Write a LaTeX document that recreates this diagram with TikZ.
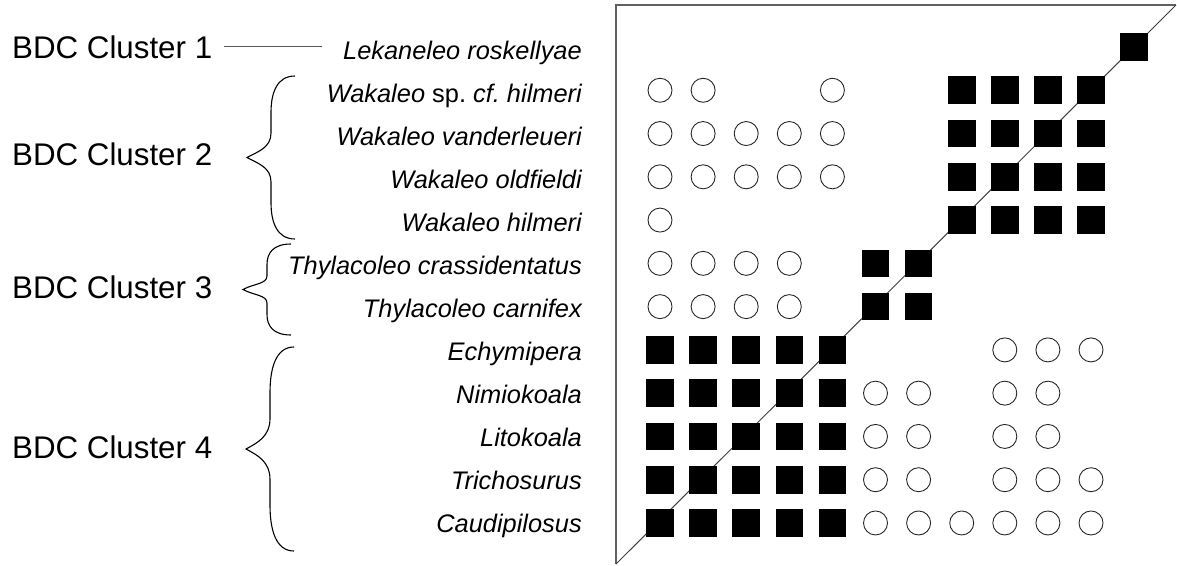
\documentclass[tikz,border=0pt]{standalone}
\usepackage{fontspec}
\setmainfont{Liberation Sans}

\begin{document}
\begin{tikzpicture}[x=1pt, y=-1pt,
  cluster/.style={anchor=base west, inner sep=0pt, font=\fontsize{31.3}{36}\selectfont},
  species/.style={anchor=base east, inner sep=0pt, font=\fontsize{25.4}{30}\selectfont\itshape},
  sqcell/.style={fill=black, minimum size=27.6pt, inner sep=0pt},
  circcell/.style={circle, draw=black!85, line width=0.9pt, minimum size=24pt, inner sep=0pt},
  frame/.style={draw=black!62, line width=1.8pt},
  diag/.style={draw=black!75, line width=1pt},
  brace/.style={draw=black, line width=1.1pt},
  link/.style={draw=black!65, line width=1.3pt}
]
\useasboundingbox (0,0) rectangle (1177,565);

%% --- Cluster labels (left) ---
\node[cluster] (cl1) at (12,58)  {BDC Cluster 1};
\node[cluster] (cl2) at (12,165) {BDC Cluster 2};
\node[cluster] (cl3) at (12,298) {BDC Cluster 3};
\node[cluster] (cl4) at (12,458) {BDC Cluster 4};

%% --- Taxon labels ---
\foreach \r/\name in {1/Lekaneleo roskellyae, 2/Wakaleo \textup{sp.}\ cf.\ hilmeri,
    3/Wakaleo vanderleueri, 4/Wakaleo oldfieldi, 5/Wakaleo hilmeri,
    6/Thylacoleo crassidentatus, 7/Thylacoleo carnifex, 8/Echymipera,
    9/Nimiokoala, 10/Litokoala, 11/Trichosurus, 12/Caudipilosus}
  \node[species] (sp\r) at (582, {59+43*(\r-1)}) {\name};

%% --- Cluster 1 link and braces for clusters 2-4 ---
\draw[link, shorten <=12pt, shorten >=21pt] (cl1.east) -- (cl1.east -| sp1.west);
\foreach \xe/\yt/\yb in {295/76/239, 291/244/335, 294/347/551} {
  \pgfmathsetmacro\bym{(\yt+\yb)/2}
  \pgfmathsetmacro\bcurl{0.45*(\yb-\yt)/2}
  \pgfmathsetmacro\btip{0.3*(\yb-\yt)/2}
  \pgfmathsetmacro\bxs{\xe-24}
  \pgfmathsetmacro\bxt{\xe-48}
  \draw[brace] (\xe,\yt) .. controls ({\bxs+6},\yt) and (\bxs,{\yt+0.45*\bcurl}) .. (\bxs,{\yt+\bcurl})
    -- (\bxs,{\bym-\btip}) .. controls (\bxs,{\bym-0.4*\btip}) and ({\bxt+11},{\bym-6}) .. (\bxt,\bym)
    .. controls ({\bxt+11},{\bym+6}) and (\bxs,{\bym+0.4*\btip}) .. (\bxs,{\bym+\btip})
    -- (\bxs,{\yb-\bcurl}) .. controls (\bxs,{\yb-0.45*\bcurl}) and ({\bxs+6},\yb) .. (\xe,\yb);
}

%% --- Matrix frame ---
\draw[frame] (616,564) -- (616,5) -- (1176,5);
\draw[diag] (616,564) -- (1176,5);

%% --- Filled cells ---
\foreach \r/\cols in {1/{12}, 2/{8,...,11}, 3/{8,...,11}, 4/{8,...,11}, 5/{8,...,11},
    6/{6,7}, 7/{6,7}, 8/{1,...,5}, 9/{1,...,5}, 10/{1,...,5}, 11/{1,...,5}, 12/{1,...,5}}
  \foreach \c in \cols
    \node[sqcell] (sq-\r-\c) at ({660+43.1*(\c-1)}, {47+43.27*(\r-1)}) {};

%% --- Open cells ---
\foreach \r/\cols in {2/{1,2,5}, 3/{1,...,5}, 4/{1,...,5}, 5/{1}, 6/{1,...,4}, 7/{1,...,4},
    8/{9,10,11}, 9/{6,7,9,10}, 10/{6,7,9,10}, 11/{6,7,9,10,11}, 12/{6,...,11}}
  \foreach \c in \cols
    \node[circcell] (ci-\r-\c) at ({660+43.1*(\c-1)}, {47+43.27*(\r-1)}) {};
\end{tikzpicture}
\end{document}
